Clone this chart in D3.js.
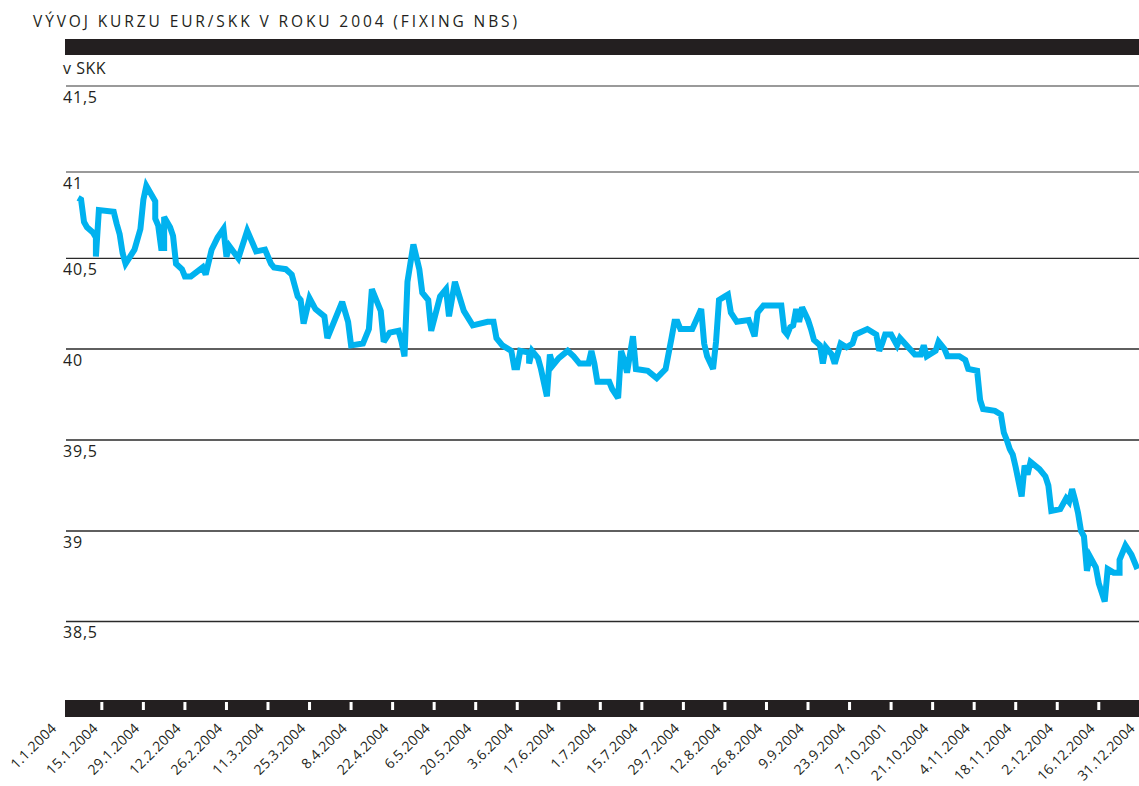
<!DOCTYPE html>
<html><head><meta charset="utf-8">
<script src="https://cdn.jsdelivr.net/npm/d3@7"></script>
<style>body{margin:0;background:#fff}svg{display:block}</style>
</head><body>
<svg id="chart" width="1139" height="786"></svg>
<script>
const chartTitle = "VÝVOJ KURZU EUR/SKK V ROKU 2004 (FIXING NBS)";
const unitLabel = "v SKK";
const yTickValues = [38.5, 39, 39.5, 40, 40.5, 41, 41.5];
const yTickLabels = ["38,5", "39", "39,5", "40", "40,5", "41", "41,5"];
const xTickDates = ["01-01","01-15","01-29","02-12","02-26","03-11","03-25","04-08","04-22","05-06","05-20","06-03","06-17","07-01","07-15","07-29","08-12","08-26","09-09","09-23","10-07","10-21","11-04","11-18","12-02","12-16","12-31"];
const xTickLabels = ["1.1.2004","15.1.2004","29.1.2004","12.2.2004","26.2.2004","11.3.2004","25.3.2004","8.4.2004","22.4.2004","6.5.2004","20.5.2004","3.6.2004","17.6.2004","1.7.2004","15.7.2004","29.7.2004","12.8.2004","26.8.2004","9.9.2004","23.9.2004","7.10.2001","21.10.2004","4.11.2004","18.11.2004","2.12.2004","16.12.2004","31.12.2004"];
const fixingDates = ["01-07","01-08","01-09","01-10","01-12","01-13","01-13","01-14","01-19","01-20","01-21","01-22","01-23","01-26","01-27","01-28","01-29","01-30","01-31","02-02","02-02","02-03","02-04","02-05","02-05","02-07","02-08","02-09","02-11","02-12","02-14","02-18","02-19","02-21","02-23","02-25","02-26","02-27","03-01","03-04","03-07","03-10","03-12","03-13","03-17","03-19","03-20","03-21","03-22","03-23","03-25","03-27","03-30","03-31","04-05","04-07","04-08","04-12","04-14","04-15","04-18","04-19","04-21","04-24","04-25","04-26","04-27","04-29","05-01","05-02","05-04","05-05","05-08","05-10","05-11","05-13","05-16","05-19","05-24","05-26","05-27","05-29","06-01","06-02","06-03","06-04","06-07","06-07","06-08","06-10","06-11","06-13","06-14","06-15","06-17","06-20","06-22","06-24","06-27","06-28","06-29","06-30","07-04","07-05","07-07","07-08","07-09","07-10","07-12","07-13","07-17","07-20","07-23","07-25","07-26","07-27","07-28","08-01","08-04","08-05","08-06","08-08","08-09","08-10","08-12","08-13","08-14","08-16","08-20","08-22","08-23","08-25","08-31","09-01","09-02","09-03","09-04","09-05","09-06","09-07","09-09","09-10","09-11","09-13","09-14","09-15","09-17","09-18","09-20","09-22","09-24","09-25","09-29","10-02","10-03","10-04","10-05","10-07","10-09","10-10","10-15","10-17","10-18","10-19","10-22","10-23","10-25","10-26","10-30","11-01","11-02","11-05","11-06","11-07","11-11","11-13","11-14","11-15","11-16","11-17","11-18","11-20","11-21","11-22","11-23","11-26","11-28","11-29","11-30","12-03","12-05","12-06","12-07","12-08","12-09","12-10","12-11","12-12","12-13","12-15","12-16","12-18","12-19","12-21","12-23","12-23","12-25","12-27","12-29"];
const fixingRates = [40.85,40.84,40.71,40.68,40.65,40.62,40.51,40.78,40.77,40.70,40.64,40.53,40.47,40.55,40.61,40.67,40.84,40.92,40.89,40.83,40.73,40.69,40.56,40.56,40.74,40.68,40.63,40.47,40.44,40.40,40.40,40.45,40.41,40.55,40.62,40.67,40.51,40.57,40.50,40.66,40.54,40.55,40.47,40.45,40.44,40.41,40.35,40.29,40.27,40.14,40.28,40.22,40.18,40.06,40.26,40.15,40.02,40.03,40.11,40.33,40.21,40.04,40.09,40.10,40.04,39.96,40.37,40.58,40.44,40.31,40.27,40.10,40.29,40.33,40.18,40.37,40.21,40.13,40.15,40.15,40.06,40.02,39.99,39.90,39.90,39.99,39.98,39.92,39.99,39.95,39.89,39.74,39.97,39.91,39.95,39.99,39.96,39.92,39.92,39.99,39.92,39.82,39.82,39.78,39.73,39.99,39.94,39.87,40.07,39.89,39.88,39.84,39.89,40.06,40.15,40.15,40.11,40.11,40.22,40.03,39.96,39.89,40.04,40.27,40.29,40.30,40.20,40.15,40.16,40.07,40.20,40.24,40.24,40.10,40.08,40.12,40.13,40.22,40.15,40.23,40.16,40.11,40.05,40.02,39.92,40.01,39.97,39.92,40.03,40.01,40.03,40.08,40.11,40.08,39.99,40.03,40.08,40.08,40.02,40.06,39.97,39.97,40.02,39.96,39.99,40.04,40.00,39.96,39.96,39.94,39.89,39.88,39.72,39.67,39.66,39.64,39.54,39.50,39.45,39.42,39.35,39.19,39.36,39.31,39.38,39.34,39.30,39.25,39.11,39.12,39.18,39.16,39.23,39.17,39.10,39.00,38.97,38.78,38.86,38.80,38.71,38.61,38.79,38.77,38.77,38.84,38.92,38.87,38.79];

const parse = d3.timeParse("%Y-%m-%d");
const toDate = s => parse("2004-" + s);
const data = fixingDates.map((d, i) => ({date: toDate(d), value: fixingRates[i]}));

const svg = d3.select("#chart");
const plotLeft = 65, plotRight = 1139;
const ink = "#231f20";
const font = "'Open Sans', 'Noto Sans', sans-serif";

// scales
const x = d3.scaleTime()
  .domain([toDate("01-01"), toDate("12-31")])
  .range([60.3, 1143.3]);
const y = d3.scaleLinear()
  .domain(yTickValues)
  .range([621.5, 531, 440, 349, 258.3, 172, 86]);

// title
svg.append("text")
  .attr("x", 33).attr("y", 27)
  .attr("font-family", font).attr("font-size", 15.5)
  .attr("fill", ink)
  .attr("textLength", 484).attr("lengthAdjust", "spacing")
  .text(chartTitle);

// top bar
svg.append("rect").attr("x", plotLeft).attr("y", 39)
  .attr("width", plotRight - plotLeft).attr("height", 16).attr("fill", ink);

svg.append("text").attr("x", 63).attr("y", 74)
  .attr("font-family", font).attr("font-size", 16).attr("fill", ink)
  .attr("letter-spacing", 0.5)
  .text(unitLabel);

// gridlines + y labels
const grid = svg.append("g");
yTickValues.forEach((v, i) => {
  const yy = y(v);
  const light = v > 40.5;
  grid.append("line")
    .attr("x1", plotLeft + 1).attr("x2", plotRight)
    .attr("y1", yy).attr("y2", yy)
    .attr("stroke", light ? "#9a9a9a" : "#2a2a2a")
    .attr("stroke-width", light ? 1.8 : 1.3);
  grid.append("text")
    .attr("x", 63).attr("y", yy + 16.5)
    .attr("font-family", font).attr("font-size", 16).attr("fill", ink)
    .attr("letter-spacing", 0.8)
    .text(yTickLabels[i]);
});

// data line
const line = d3.line().x(d => x(d.date)).y(d => y(d.value));
svg.append("path").datum(data)
  .attr("d", line)
  .attr("fill", "none")
  .attr("stroke", "#00b2ef")
  .attr("stroke-width", 6)
  .attr("stroke-linejoin", "miter")
  .attr("stroke-miterlimit", 3)
  .attr("stroke-linecap", "butt");

// bottom bar with ticks
svg.append("rect").attr("x", plotLeft).attr("y", 700)
  .attr("width", plotRight - plotLeft).attr("height", 17).attr("fill", ink);

const tickData = xTickDates.map((d, i) => ({date: toDate(d), label: xTickLabels[i]}));
svg.append("g").selectAll("rect")
  .data(tickData.filter(t => x(t.date) > plotLeft + 3 && x(t.date) < plotRight - 3))
  .join("rect")
  .attr("x", t => x(t.date) - 1.5).attr("y", 702)
  .attr("width", 3).attr("height", 8).attr("fill", "#fff");

svg.append("g").selectAll("text")
  .data(tickData)
  .join("text")
  .attr("transform", t => `translate(${Math.min(x(t.date) - 3, 1136)},${729}) rotate(-45)`)
  .attr("text-anchor", "end")
  .attr("font-family", font).attr("font-size", 14).attr("fill", ink)
  .attr("letter-spacing", 0.3)
  .text(t => t.label);
</script>
</body></html>
